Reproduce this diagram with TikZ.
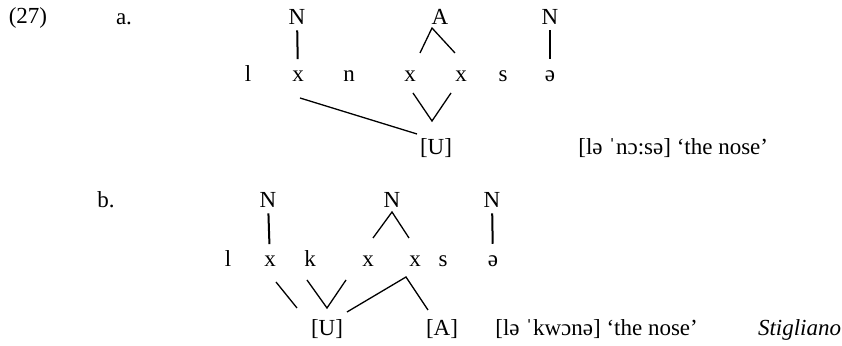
\documentclass[tikz,border=0pt]{standalone}
\usepackage{fontspec}
\setmainfont{Liberation Serif}
\usetikzlibrary{calc}

\begin{document}
\begin{tikzpicture}[
    x=0.5pt, y=-0.5pt,
    every node/.style={inner sep=0pt, anchor=base, font=\fontsize{11.5}{14}\selectfont},
    assoc/.style={line width=1pt, shorten <=2.5pt, shorten >=6pt},
    branch/.style={line width=0.65pt}
]
\useasboundingbox (0,0) rectangle (842,346);

% (27a)
\node (exno) at (28,24) {(27)};
\node (laba) at (124,25) {a.};
\node (Na) at (297,25) {N};
\node (Aa) at (440,25) {A};
\node (Nc) at (550,25) {N};
\node (la) at (248,82) {l};
\node (xa1) at (298,82) {x};
\node (na) at (349,82) {n};
\node (xa2) at (410,82) {x};
\node (xa3) at (461,82) {x};
\node (sa) at (503,82) {s};
\node (ea) at (550,82) {ə};
\node (Ua) at (436,155) {[U]};
\node[anchor=base west] (glossa) at (578,155) {[lə ˈnɔ:sə] `the nose'};

\draw[assoc] (Na) -- (xa1);
\draw[assoc] (Nc) -- (ea);
\draw[branch] ($(xa2.base)+(10,-29)$) -- ($(Aa.base)+(-8,3)$) -- ($(xa3.base)+(-6,-29)$);
\draw[branch] ($(xa2.base)+(3,11)$) -- ($(Ua.base)+(-4,-34)$) -- ($(xa3.base)+(-10,11)$);
\draw[branch] ($(xa1.base)+(2,16)$) -- ($(Ua.base)+(-19,-21)$);

% (27b)
\node (labb) at (106,208) {b.};
\node (Nb1) at (268,208) {N};
\node (Nb2) at (392,208) {N};
\node (Nb3) at (492,208) {N};
\node (lb) at (228,267) {l};
\node (xb1) at (270,267) {x};
\node (kb) at (310,267) {k};
\node (xb3) at (368,267) {x};
\node (xb4) at (415,267) {x};
\node (sb) at (443,267) {s};
\node (eb) at (493,267) {ə};
\node (Ub) at (327,336) {[U]};
\node (Ab) at (442,336) {[A]};
\node[anchor=base west] (glossb) at (495,336) {[lə ˈkwɔnə] `the nose'};
\node[anchor=base east] (place) at (841.5,336) {\textit{Stigliano}};

\draw[assoc] (Nb1) -- (xb1);
\draw[assoc] (Nb3) -- (eb);
\draw[branch] ($(xb3.base)+(5,-29)$) -- ($(Nb2.base)+(0,4)$) -- ($(xb4.base)+(-6,-29)$);
\draw[branch] ($(xb1.base)+(6,15)$) -- ($(Ub.base)+(-30,-28)$);
\draw[branch] ($(kb.base)+(-3,13)$) -- ($(Ub.base)+(0,-28)$) -- ($(xb3.base)+(-22,13)$);
\draw[branch] ($(Ub.base)+(20,-24)$) -- ($(xb4.base)+(-9,10)$) -- ($(Ab.base)+(-14,-26)$);
\end{tikzpicture}
\end{document}
